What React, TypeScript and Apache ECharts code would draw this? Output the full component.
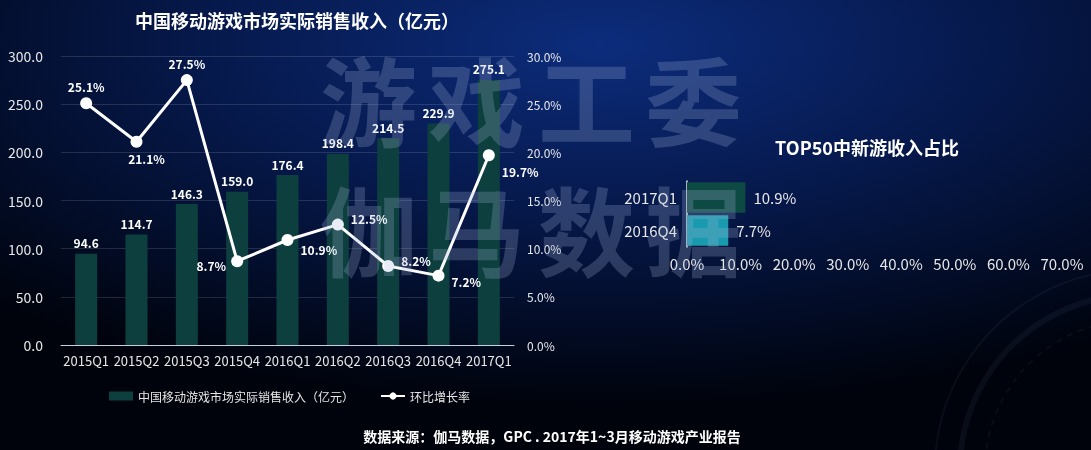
import React, { useEffect, useRef } from "react";
import * as echarts from "echarts";

const quarters = ["2015Q1", "2015Q2", "2015Q3", "2015Q4", "2016Q1", "2016Q2", "2016Q3", "2016Q4", "2017Q1"];
const revenue = [94.6, 114.7, 146.3, 159.0, 176.4, 198.4, 214.5, 229.9, 275.1];
const growth = [25.1, 21.1, 27.5, 8.7, 10.9, 12.5, 8.2, 7.2, 19.7];
const growthLabelPos: [string, number, number][] = [
  ["top", 0, 0],
  ["bottom", 10, 0],
  ["top", 0, 0],
  ["left", 0, 4],
  ["right", 2, 10],
  ["right", 2, -6],
  ["right", 2, -6],
  ["right", 2, 6],
  ["right", 2, 16],
];
const newGameCats = ["2016Q4", "2017Q1"];
const newGameShare = [7.7, 10.9];
const newGameColors = ["#1a9aae", "#0d4a44"];

const leftTicks = { min: 0, max: 300, interval: 50 };
const rightTicks = { min: 0, max: 30, interval: 5 };
const shareTicks = { min: 0, max: 70, interval: 10 };

const wm1 = ["游", "戏", "工", "委"];
const wm2 = ["伽", "马", "数", "据"];

export default function App() {
  const ref = useRef<HTMLDivElement>(null);
  useEffect(() => {
    if (!ref.current) return;
    const chart = echarts.init(ref.current, null, { renderer: "svg" });
    const font = "'Noto Sans CJK SC', 'Noto Sans', sans-serif";
    const wmStyle = (t: string, x: number, y: number) => ({
      type: "text",
      x,
      y,
      z: 100,
      silent: true,
      style: {
        text: t,
        fontSize: 97,
        fontFamily: font,
        fontWeight: "bold",
        fill: "rgba(165,180,215,0.25)",
      },
    });
    const wmX = [320, 428, 538, 645];
    const graphics: any[] = [];
    wm1.forEach((c, i) => graphics.push(wmStyle(c, wmX[i], 48)));
    wm2.forEach((c, i) => graphics.push(wmStyle(c, wmX[i], 178)));
    [200, 175, 150].forEach((r, i) =>
      graphics.push({
        type: "circle",
        shape: { cx: 1135, cy: 470, r },
        silent: true,
        z: -1,
        style: {
          fill: "none",
          stroke: "rgba(120,140,180,0.08)",
          lineWidth: i === 1 ? 6 : 2,
          lineDash: i === 2 ? [6, 6] : null,
        },
      })
    );
    graphics.push({
      type: "text",
      x: 552,
      y: 436,
      style: {
        text: "数据来源：伽马数据，GPC . 2017年1~3月移动游戏产业报告",
        fontSize: 14,
        fontWeight: "bold",
        fontFamily: font,
        fill: "#ffffff",
        align: "center",
        verticalAlign: "middle",
      },
    });

    chart.setOption({
      animation: false,
      backgroundColor: new echarts.graphic.RadialGradient(0.55, 0.1, 0.8, [
        { offset: 0, color: "#0c2c7c" },
        { offset: 0.45, color: "#06194c" },
        { offset: 1, color: "#00030c" },
      ]),
      textStyle: { fontFamily: font },
      title: [
        {
          text: "中国移动游戏市场实际销售收入（亿元）",
          left: 292,
          top: 6,
          textAlign: "center",
          textStyle: { color: "#fff", fontSize: 18, fontWeight: "bold", fontFamily: font },
        },
        {
          text: "TOP50中新游收入占比",
          left: 862,
          top: 133,
          textAlign: "center",
          textStyle: { color: "#fff", fontSize: 18, fontWeight: "bold", fontFamily: font },
        },
      ],
      legend: {
        left: 104,
        top: 385,
        itemWidth: 24,
        itemHeight: 9,
        itemGap: 26,
        textStyle: { color: "#e6e6e6", fontSize: 12, fontFamily: font },
        data: [
          { name: "中国移动游戏市场实际销售收入（亿元）", icon: "rect" },
          { name: "环比增长率" },
        ],
      },
      grid: [
        { left: 61, right: 1091 - 514, top: 56, bottom: 450 - 345 },
        { left: 687, right: 1091 - 1062, top: 181, bottom: 450 - 247 },
      ],
      xAxis: [
        {
          type: "category",
          gridIndex: 0,
          data: quarters,
          axisLine: { lineStyle: { color: "#c8d0e0", width: 1 } },
          axisTick: { show: false },
          axisLabel: { color: "#e8e8e8", fontSize: 13, margin: 9, interval: 0 },
        },
        {
          type: "value",
          gridIndex: 1,
          ...shareTicks,
          axisLine: { show: false },
          axisTick: { show: false },
          splitLine: { show: false },
          axisLabel: { color: "#e8e8e8", fontSize: 15, margin: 9, formatter: (v: number) => v.toFixed(1) + "%" },
        },
      ],
      yAxis: [
        {
          type: "value",
          gridIndex: 0,
          ...leftTicks,
          axisLine: { show: false },
          axisTick: { show: false },
          splitLine: { lineStyle: { color: "rgba(255,255,255,0.13)" } },
          axisLabel: { color: "#e8e8e8", fontSize: 14, margin: 18, formatter: (v: number) => v.toFixed(1) },
        },
        {
          type: "value",
          gridIndex: 0,
          position: "right",
          ...rightTicks,
          axisLine: { show: false },
          axisTick: { show: false },
          splitLine: { show: false },
          axisLabel: { color: "#e8e8e8", fontSize: 12, margin: 13, formatter: (v: number) => v.toFixed(1) + "%" },
        },
        {
          type: "category",
          gridIndex: 1,
          data: newGameCats,
          axisLine: { lineStyle: { color: "#e0e0e0", width: 1.5 } },
          axisTick: { show: false },
          axisLabel: { color: "#e8e8e8", fontSize: 15, margin: 10 },
        },
      ],
      series: [
        {
          name: "中国移动游戏市场实际销售收入（亿元）",
          type: "bar",
          xAxisIndex: 0,
          yAxisIndex: 0,
          data: revenue,
          barWidth: 22,
          itemStyle: { color: "#0c3f3e" },
          label: {
            show: true,
            position: "top",
            color: "#fff",
            fontWeight: "bold",
            fontSize: 12,
            formatter: (p: any) => p.value.toFixed(1),
          },
        },
        {
          name: "环比增长率",
          type: "line",
          xAxisIndex: 0,
          yAxisIndex: 1,
          data: growth.map((v, i) => ({
            value: v,
            label: {
              position: growthLabelPos[i][0],
              offset: [growthLabelPos[i][1], growthLabelPos[i][2]],
            },
          })),
          symbol: "circle",
          symbolSize: 12,
          lineStyle: { color: "#fff", width: 3 },
          itemStyle: { color: "#fff" },
          label: {
            show: true,
            color: "#fff",
            fontWeight: "bold",
            fontSize: 12,
            formatter: (p: any) => p.value.toFixed(1) + "%",
          },
          z: 5,
        },
        {
          name: "TOP50中新游收入占比",
          type: "bar",
          xAxisIndex: 1,
          yAxisIndex: 2,
          data: newGameShare.map((v, i) => ({ value: v, itemStyle: { color: newGameColors[i] } })),
          barCategoryGap: "8%",
          label: {
            show: true,
            position: "right",
            distance: 8,
            color: "#e8e8e8",
            fontSize: 15,
            formatter: (p: any) => p.value.toFixed(1) + "%",
          },
        },
      ],
      graphic: graphics,
    });
    return () => chart.dispose();
  }, []);
  return (
    <div
      ref={ref}
      style={{ position: "fixed", left: 0, top: 0, width: 1091, height: 450 }}
    />
  );
}
